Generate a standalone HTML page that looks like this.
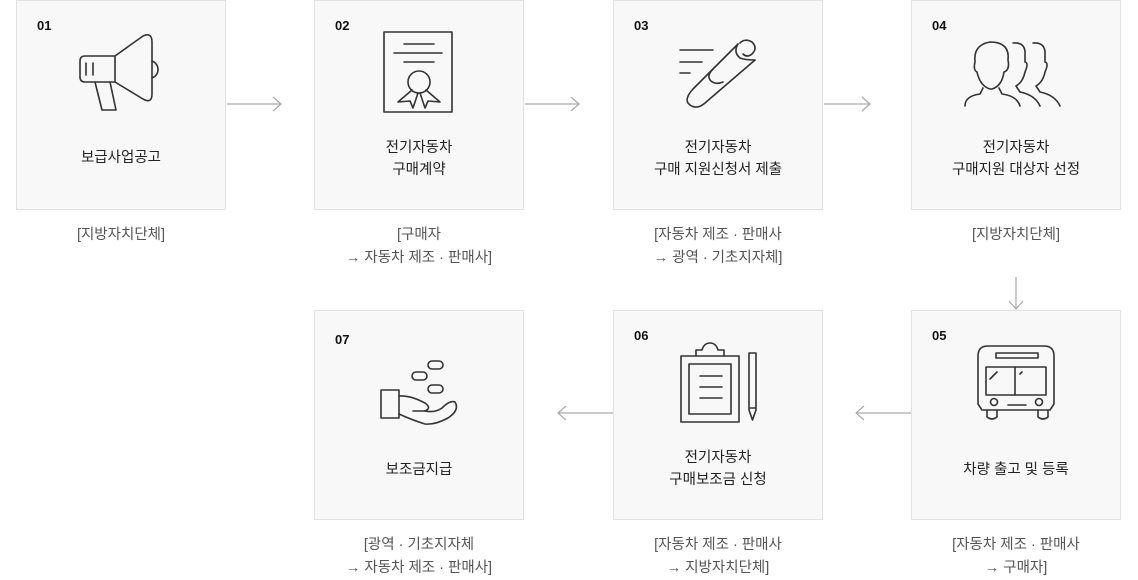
<!DOCTYPE html>
<html><head><meta charset="utf-8">
<style>
html,body{margin:0;padding:0;background:#fff;width:1138px;height:580px;overflow:hidden}
body{position:relative;font-family:"Liberation Sans","Noto Sans CJK KR",sans-serif}
.box{position:absolute;width:210px;height:210px;background:#f8f8f8;border:1px solid #e2e2e2;box-sizing:border-box}
.num{position:absolute;left:20px;top:17px;font-size:13px;font-weight:bold;color:#111}
.t{position:absolute;left:0;width:100%;text-align:center;font-size:14.5px;line-height:22px;color:#222}
.l{position:absolute;width:260px;text-align:center;font-size:14.5px;line-height:23px;color:#555}
svg{position:absolute;left:0;top:0}
</style></head><body>
<div class="box" style="left:16px;top:0"><div class="num">01</div><div class="t" style="top:146px">보급사업공고</div></div>
<div class="box" style="left:314px;top:0"><div class="num">02</div><div class="t" style="top:136px">전기자동차<br>구매계약</div></div>
<div class="box" style="left:613px;top:0"><div class="num">03</div><div class="t" style="top:136px">전기자동차<br>구매 지원신청서 제출</div></div>
<div class="box" style="left:911px;top:0"><div class="num">04</div><div class="t" style="top:136px">전기자동차<br>구매지원 대상자 선정</div></div>
<div class="box" style="left:911px;top:310px"><div class="num">05</div><div class="t" style="top:148px">차량 출고 및 등록</div></div>
<div class="box" style="left:613px;top:310px"><div class="num">06</div><div class="t" style="top:136px">전기자동차<br>구매보조금 신청</div></div>
<div class="box" style="left:314px;top:310px"><div class="num" style="top:21px">07</div><div class="t" style="top:148px">보조금지급</div></div>

<div class="l" style="left:-9px;top:224px">[지방자치단체]</div>
<div class="l" style="left:289px;top:224px">[구매자<br>→ 자동차 제조 · 판매사]</div>
<div class="l" style="left:588px;top:224px">[자동차 제조 · 판매사<br>→ 광역 · 기초지자체]</div>
<div class="l" style="left:886px;top:224px">[지방자치단체]</div>
<div class="l" style="left:886px;top:534px">[자동차 제조 · 판매사<br>→ 구매자]</div>
<div class="l" style="left:588px;top:534px">[자동차 제조 · 판매사<br>→ 지방자치단체]</div>
<div class="l" style="left:289px;top:534px">[광역 · 기초지자체<br>→ 자동차 제조 · 판매사]</div>

<svg width="1138" height="580" viewBox="0 0 1138 580" fill="none">
<g stroke="#aaa" stroke-width="1.2">
<path d="M227 104H281M273 97L281 104L273 111"/>
<path d="M525 104H579M571 97L579 104L571 111"/>
<path d="M824 104H870M862 97L870 104L862 111"/>
<path d="M1016 277V309M1009 301L1016 309L1023 301"/>
<path d="M911 413H856M864 406L856 413L864 420"/>
<path d="M613 413H558M566 406L558 413L566 420"/>
</g>
<g stroke="#333" stroke-width="1.6" stroke-linejoin="round" stroke-linecap="round">
<path d="M115 56H85Q80 56 80 61V77Q80 82 85 82H115Z"/>
<path d="M115 56L143 36Q152 32 152 42V94Q152 104 143 99L115 82"/>
<path d="M152 61A9 9 0 0 1 152 78"/>
<path d="M86 63V75M93 63V75"/>
<path d="M95 82L102 110H116L110 82"/>
<rect x="384" y="32" width="68" height="80"/>
<path d="M404 44H434M394 53H442M404 62H434"/>
<circle cx="419" cy="82" r="11"/>
<path d="M412 90L398 102L410 101L413 108L418 93M426 90L440 102L428 101L425 108L420 93"/>
<path d="M680 50H713M680 62H702M680 73H690"/>
<path d="M740 43Q745 38 752 42Q758 48 752 54Q747 58 743 54"/>
<path d="M738 44L693 89Q683 100 690 105Q697 110 705 103L755 60"/>
<path d="M738 44Q733 52 740 58Q745 60 755 60"/>
<path d="M713 69Q706 76 711 81Q716 85 723 82"/>
<path d="M990 89Q980 86 977 72Q973 70 975 62Q973 45 990 42Q1010 42 1008 60Q1010 70 1004 72Q1002 86 992 89Z"/>
<path d="M983 88L980 94Q965 96 965 106M999 88L1002 94Q1017 96 1020 106"/>
<path d="M1013 43Q1026 42 1025 55V62Q1029 63 1025 72Q1023 82 1016 86L1020 92Q1035 95 1040 106"/>
<path d="M1033 43Q1046 42 1045 55V62Q1049 63 1045 72Q1043 82 1036 86L1040 92Q1055 95 1060 106"/>
<path d="M988 346H1044Q1054 346 1054 356V404L1050 410H982L978 404V356Q978 346 988 346Z"/>
<rect x="996" y="353" width="42" height="5"/>
<rect x="986" y="367" width="60" height="28"/>
<path d="M1015 367V395M990 379L997 372M1020 374L1022 372"/>
<circle cx="994" cy="402" r="3.5"/><circle cx="1039" cy="402" r="3.5"/>
<path d="M1008 405H1026"/>
<path d="M987 410V417Q992 421 997 417V410M1038 410V417Q1043 421 1048 417V410"/>
<rect x="681" y="356" width="58" height="66"/>
<rect x="689" y="364" width="42" height="50"/>
<path d="M700 376H722M700 387H722M700 398H722"/>
<path d="M696 356V350H702Q704 343 710 343Q716 343 718 350H724V356"/>
<path d="M749 353H756V410L752.5 420L749 410Z M749 408H756"/>
<rect x="381" y="390" width="18" height="28"/>
<path d="M399 396Q410 395 425 403Q432 408 425 411H413"/>
<path d="M399 414Q412 420 425 424Q435 425 448 418Q460 410 455 402Q450 400 442 408Q435 413 425 411"/>
<rect x="428" y="361" width="15" height="8" rx="4"/>
<rect x="412" y="372" width="15" height="8" rx="4"/>
<rect x="428" y="385" width="15" height="8" rx="4"/>
</g>
</svg>
</body></html>
